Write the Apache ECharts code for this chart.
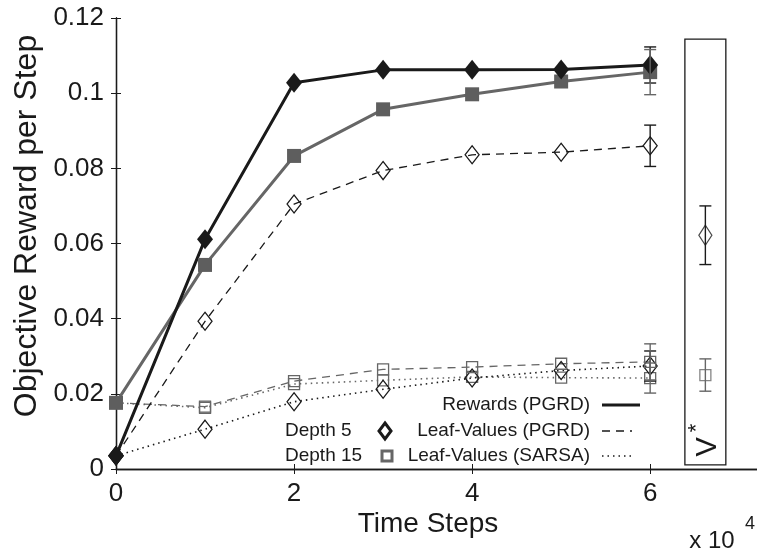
<!DOCTYPE html>
<html>
<head>
<meta charset="utf-8">
<script src="https://cdn.jsdelivr.net/npm/echarts@6/dist/echarts.min.js"></script>
<style>
  html, body { margin: 0; padding: 0; background: #fff; }
  #chart { width: 757px; height: 552px; }
</style>
</head>
<body>
<div id="chart"></div>
<script>
// Time steps (units of 10^4)
const steps = [0, 1, 2, 3, 4, 5, 6];

// Objective reward per step for each method / depth
const rewardsPgrdD5   = [0.0035, 0.0611, 0.1028, 0.1062, 0.1062, 0.1063, 0.1075];
const rewardsPgrdD15  = [0.0176, 0.0543, 0.0833, 0.0957, 0.0997, 0.1031, 0.1056];
const leafPgrdD5      = [0.0035, 0.0393, 0.0705, 0.0794, 0.0836, 0.0843, 0.0860];
const leafPgrdD15     = [0.0176, 0.0166, 0.0234, 0.0265, 0.0271, 0.0280, 0.0285];
const leafSarsaD5     = [0.0035, 0.0106, 0.0179, 0.0212, 0.0242, 0.0262, 0.0274];
const leafSarsaD15    = [0.0176, 0.0163, 0.0226, 0.0236, 0.0245, 0.0243, 0.0242];

// Final-step error half-widths
const errStep = 6;
const errRewardsPgrdD5  = 0.0048;
const errRewardsPgrdD15 = 0.0060;
const errLeafPgrdD5     = 0.0055;
const errLeafPgrdD15    = 0.0048;
const errLeafSarsaD5    = 0.0040;
const errLeafSarsaD15   = 0.0040;

// Optimal value V* reference (depth 5 / depth 15)
const vStarX = 6.62;
const vStarD5 = 0.0622, vStarD5Err = 0.0078;
const vStarD15 = 0.0250, vStarD15Err = 0.0043;
const vStarBox = [6.39, 0.0011, 6.85, 0.1144];

// Axis ranges
const xRange = [0, 7.2], xStep = 2;
const yRange = [0, 0.12], yStep = 0.02;

const BLACK = '#1a1a1a';
const GRAY = '#666666';
const FONT = '"Liberation Sans", Arial, sans-serif';

const pairs = ys => steps.map((x, i) => [x, ys[i]]);
const bar = (y, e) => [errStep, y - e, y + e];

const blackBars = [
  bar(rewardsPgrdD5[6], errRewardsPgrdD5),
  bar(leafPgrdD5[6], errLeafPgrdD5),
  bar(leafSarsaD5[6], errLeafSarsaD5),
  [vStarX, vStarD5 - vStarD5Err, vStarD5 + vStarD5Err]
];
const grayBars = [
  bar(rewardsPgrdD15[6], errRewardsPgrdD15),
  bar(leafPgrdD15[6], errLeafPgrdD15),
  bar(leafSarsaD15[6], errLeafSarsaD15),
  [vStarX, vStarD15 - vStarD15Err, vStarD15 + vStarD15Err]
];

function errorBarRenderer(color) {
  return function (params, api) {
    const x = api.value(0);
    const lo = api.coord([x, api.value(1)]);
    const hi = api.coord([x, api.value(2)]);
    const h = 6;
    const style = { stroke: color, lineWidth: 1.4, fill: null };
    return {
      type: 'group',
      children: [
        { type: 'line', shape: { x1: lo[0], y1: lo[1], x2: hi[0], y2: hi[1] }, style },
        { type: 'line', shape: { x1: lo[0] - h, y1: lo[1], x2: lo[0] + h, y2: lo[1] }, style },
        { type: 'line', shape: { x1: hi[0] - h, y1: hi[1], x2: hi[0] + h, y2: hi[1] }, style }
      ]
    };
  };
}

function lineSeries(name, ys, opts) {
  return Object.assign({
    name, type: 'line', data: pairs(ys),
    xAxisIndex: 0, yAxisIndex: 0,
    silent: true, animation: false, z: 3
  }, opts);
}

const hollow = c => ({ color: 'rgba(0,0,0,0)', borderColor: c, borderWidth: 1.3 });

const chart = echarts.init(document.getElementById('chart'), null, { renderer: 'canvas' });

const axisCommon = {
  type: 'value',
  axisLine: { show: true, lineStyle: { color: BLACK, width: 1.3 } },
  axisTick: { show: true, inside: true, length: 5, lineStyle: { color: BLACK, width: 1 } },
  splitLine: { show: false }
};

chart.setOption({
  backgroundColor: '#ffffff',
  animation: false,
  grid: { left: 116, top: 18, right: 0, bottom: 83, containLabel: false },
  xAxis: [
    Object.assign({}, axisCommon, {
      position: 'bottom', min: xRange[0], max: xRange[1], interval: xStep,
      axisLabel: {
        show: true, margin: 12, color: BLACK, fontFamily: FONT, fontSize: 26,
        showMaxLabel: false
      }
    }),
    Object.assign({}, axisCommon, {
      position: 'top', min: xRange[0], max: xRange[1], interval: xStep,
      axisLabel: { show: false }
    })
  ],
  yAxis: [
    Object.assign({}, axisCommon, {
      position: 'left', min: yRange[0], max: yRange[1], interval: yStep,
      axisLabel: {
        show: true, margin: 12, color: BLACK, fontFamily: FONT, fontSize: 26,
        formatter: v => (v === 0 ? '0' : String(+v.toFixed(2)))
      }
    }),
    Object.assign({}, axisCommon, {
      position: 'right', min: yRange[0], max: yRange[1], interval: yStep,
      axisLabel: { show: false }
    })
  ],
  series: [
    lineSeries('Leaf-Values (SARSA) depth 15', leafSarsaD15, {
      symbol: 'rect', symbolSize: 11,
      lineStyle: { color: GRAY, width: 1.6, type: [1.5, 4] },
      itemStyle: hollow(GRAY)
    }),
    lineSeries('Leaf-Values (SARSA) depth 5', leafSarsaD5, {
      symbol: 'diamond', symbolSize: [14, 18],
      lineStyle: { color: BLACK, width: 1.6, type: [1.5, 4] },
      itemStyle: hollow(BLACK)
    }),
    lineSeries('Leaf-Values (PGRD) depth 15', leafPgrdD15, {
      symbol: 'rect', symbolSize: 11,
      lineStyle: { color: GRAY, width: 1.3, type: [8, 6] },
      itemStyle: hollow(GRAY)
    }),
    lineSeries('Leaf-Values (PGRD) depth 5', leafPgrdD5, {
      symbol: 'diamond', symbolSize: [14, 18],
      lineStyle: { color: BLACK, width: 1.3, type: [8, 6] },
      itemStyle: hollow(BLACK)
    }),
    lineSeries('Rewards (PGRD) depth 15', rewardsPgrdD15, {
      symbol: 'rect', symbolSize: 14,
      lineStyle: { color: GRAY, width: 3 },
      itemStyle: { color: '#5e5e5e' }
    }),
    lineSeries('Rewards (PGRD) depth 5', rewardsPgrdD5, {
      symbol: 'diamond', symbolSize: [16, 20],
      lineStyle: { color: BLACK, width: 3 },
      itemStyle: { color: BLACK }
    }),
    {
      name: 'V* depth 5', type: 'scatter', data: [[vStarX, vStarD5]],
      symbol: 'diamond', symbolSize: [13, 20], itemStyle: hollow(BLACK),
      silent: true, z: 4
    },
    {
      name: 'V* depth 15', type: 'scatter', data: [[vStarX, vStarD15]],
      symbol: 'rect', symbolSize: 11, itemStyle: hollow(GRAY),
      silent: true, z: 4
    },
    {
      type: 'custom', data: blackBars, renderItem: errorBarRenderer(BLACK),
      silent: true, z: 5
    },
    {
      type: 'custom', data: grayBars, renderItem: errorBarRenderer(GRAY),
      silent: true, z: 5
    },
    {
      // Frame around the V* reference values
      type: 'custom', data: [vStarBox], silent: true, z: 2,
      renderItem: function (params, api) {
        const p0 = api.coord([api.value(0), api.value(1)]);
        const p1 = api.coord([api.value(2), api.value(3)]);
        const cx = (p0[0] + p1[0]) / 2;
        return {
          type: 'group',
          children: [
            {
              type: 'rect',
              shape: { x: p0[0], y: p1[1], width: p1[0] - p0[0], height: p0[1] - p1[1] },
              style: { fill: null, stroke: BLACK, lineWidth: 1.3 }
            },
            {
              type: 'text', x: cx + 3, y: p0[1] - 18, rotation: Math.PI / 2,
              style: { text: 'V', font: '29px ' + FONT, fill: BLACK, align: 'center', verticalAlign: 'middle' }
            },
            {
              type: 'text', x: cx - 8, y: p0[1] - 37, rotation: Math.PI / 2,
              style: { text: '*', font: '22px ' + FONT, fill: BLACK, align: 'center', verticalAlign: 'middle' }
            }
          ]
        };
      }
    }
  ],
  graphic: [
    // axis titles
    {
      type: 'text', x: 27, y: 226, rotation: Math.PI / 2,
      style: { text: 'Objective Reward per Step', font: '32px ' + FONT, fill: BLACK, align: 'center', verticalAlign: 'middle' }
    },
    {
      type: 'text', x: 428, y: 524,
      style: { text: 'Time Steps', font: '28px ' + FONT, fill: BLACK, align: 'center', verticalAlign: 'middle' }
    },
    // axis scale factor
    {
      type: 'text', x: 712, y: 541,
      style: { text: 'x 10', font: '24px ' + FONT, fill: BLACK, align: 'center', verticalAlign: 'middle' }
    },
    {
      type: 'text', x: 750, y: 524,
      style: { text: '4', font: '18px ' + FONT, fill: BLACK, align: 'center', verticalAlign: 'middle' }
    },
    // legend
    {
      type: 'text', x: 590, y: 405,
      style: { text: 'Rewards (PGRD)', font: '19px ' + FONT, fill: BLACK, align: 'right', verticalAlign: 'middle' }
    },
    {
      type: 'line', shape: { x1: 602, y1: 405, x2: 640, y2: 405 },
      style: { stroke: BLACK, lineWidth: 3 }
    },
    {
      type: 'text', x: 590, y: 431,
      style: { text: 'Leaf-Values (PGRD)', font: '19px ' + FONT, fill: BLACK, align: 'right', verticalAlign: 'middle' }
    },
    {
      type: 'line', shape: { x1: 602, y1: 431, x2: 632, y2: 431 },
      style: { stroke: BLACK, lineWidth: 1.3, lineDash: [8, 6] }
    },
    {
      type: 'text', x: 590, y: 456,
      style: { text: 'Leaf-Values (SARSA)', font: '19px ' + FONT, fill: BLACK, align: 'right', verticalAlign: 'middle' }
    },
    {
      type: 'line', shape: { x1: 602, y1: 456, x2: 633, y2: 456 },
      style: { stroke: BLACK, lineWidth: 1.6, lineDash: [1.5, 4] }
    },
    {
      type: 'text', x: 285, y: 431,
      style: { text: 'Depth 5', font: '19px ' + FONT, fill: BLACK, align: 'left', verticalAlign: 'middle' }
    },
    {
      type: 'polygon', shape: { points: [[385, 423], [391, 431], [385, 439], [379, 431]] },
      style: { fill: null, stroke: BLACK, lineWidth: 3 }
    },
    {
      type: 'text', x: 285, y: 456,
      style: { text: 'Depth 15', font: '19px ' + FONT, fill: BLACK, align: 'left', verticalAlign: 'middle' }
    },
    {
      type: 'rect', shape: { x: 382, y: 451, width: 10, height: 10 },
      style: { fill: null, stroke: GRAY, lineWidth: 3 }
    }
  ]
});
</script>
</body>
</html>
